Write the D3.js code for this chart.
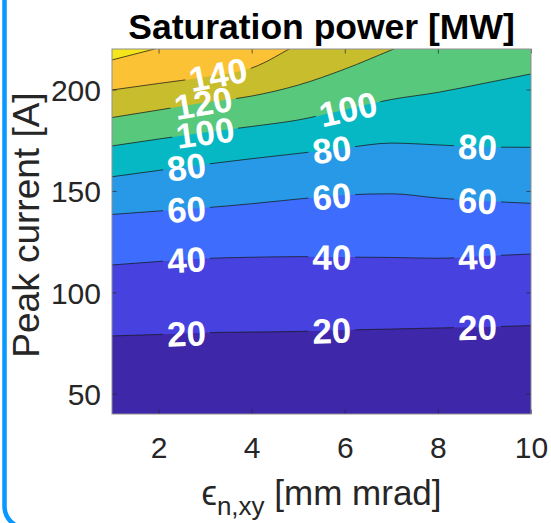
<!DOCTYPE html>
<html>
<head>
<meta charset="utf-8">
<script src="https://cdn.jsdelivr.net/npm/d3@7"></script>
<style>
  body { margin: 0; background: #fff; }
  svg { display: block; }
</style>
</head>
<body>
<div id="wrapper"></div>
<script>
// values
const emittance = [1, 2, 3, 4, 5, 6, 7, 8, 9, 10]          // mm mrad
const contourLevels = [20, 40, 60, 80, 100, 120, 140, 160]  // MW

// peak current [A] at which the saturation power crosses each level
// (levels 120-160 leave through the top of the plot, values past 220 are hidden)
const currentAt20  = [78.5, 79.2, 80.1, 80.4, 80.7, 81.4, 81.9, 82.4, 82.9, 83.6]
const currentAt40  = [113.5, 115.2, 116.7, 117.3, 117.6, 117.4, 117.2, 116.8, 117.9, 118.9]
const currentAt60  = [138.4, 140.1, 141.7, 143.7, 146.0, 148.0, 148.6, 146.5, 145.0, 143.9]
const currentAt80  = [157.0, 160.1, 163.1, 165.9, 168.5, 171.2, 173.6, 172.7, 171.7, 171.5]
const currentAt100 = [172.2, 175.6, 178.8, 181.8, 185.0, 190.1, 195.1, 198.6, 203.1, 207.7]
const currentAt120 = [186.2, 189.9, 193.6, 196.8, 202.2, 210.1, 219.5, 229, 238, 247]
const currentAt140 = [199.8, 203.0, 206.2, 210.6, 222.5, 235, 246, 257, 268, 279]
const currentAt160 = [214.6, 220.5, 226.5, 233, 240, 250, 260, 270, 280, 290]
const currentAtLevel = [currentAt20, currentAt40, currentAt60, currentAt80,
                        currentAt100, currentAt120, currentAt140, currentAt160]

const xTicks = [2, 4, 6, 8, 10]
const yTicks = [50, 100, 150, 200]

// parula-like band colours, lowest band first
const bandColors = ["#3e27a8", "#4641df", "#3e6dfd", "#2799e6", "#05b8c4",
                    "#57c87c", "#c8bd2c", "#fcc235", "#f5e61c"]

// emittance where each contour carries its inline label
const labelSpots = [
  { level: 20,  at: [2.6, 5.72, 8.85] },
  { level: 40,  at: [2.6, 5.72, 8.85] },
  { level: 60,  at: [2.6, 5.72, 8.85] },
  { level: 80,  at: [2.6, 5.72, 8.85] },
  { level: 100, at: [3.0, 6.07] },
  { level: 120, at: [2.96] },
  { level: 140, at: [3.28] },
]

function drawContourChart() {

  let dimensions = {
    width: 551,
    height: 523,
    margins: { top: 49, right: 20, bottom: 109, left: 112 }
  }
  dimensions.boundedWidth = dimensions.width
    - dimensions.margins.left
    - dimensions.margins.right
  dimensions.boundedHeight = dimensions.height
    - dimensions.margins.top
    - dimensions.margins.bottom

  const font = "'Liberation Sans', Arial, Helvetica, sans-serif"

  const wrapper = d3.select("#wrapper")
    .append("svg")
    .attr("width", dimensions.width)
    .attr("height", dimensions.height)

  // blue frame around the figure
  wrapper.append("rect")
    .attr("x", 4.5)
    .attr("y", -40)
    .attr("width", 700)
    .attr("height", 568)
    .attr("rx", 21.7)
    .attr("fill", "none")
    .attr("stroke", "#0898ff")
    .attr("stroke-width", 4.5)

  const bounds = wrapper.append("g")
    .attr("transform", `translate(${dimensions.margins.left},${dimensions.margins.top})`)

  const xScale = d3.scaleLinear()
    .domain([1, 10])
    .range([0, dimensions.boundedWidth])

  const yScale = d3.scaleLinear()
    .domain([40, 220])
    .range([dimensions.boundedHeight, 0])

  const defs = wrapper.append("defs")
  defs.append("clipPath")
    .attr("id", "plot-clip")
    .append("rect")
    .attr("width", dimensions.boundedWidth)
    .attr("height", dimensions.boundedHeight)

  const mask = defs.append("mask")
    .attr("id", "label-gaps")
    .attr("maskUnits", "userSpaceOnUse")
  mask.append("rect")
    .attr("x", -50).attr("y", -50)
    .attr("width", dimensions.boundedWidth + 100)
    .attr("height", dimensions.boundedHeight + 100)
    .attr("fill", "white")

  const plot = bounds.append("g").attr("clip-path", "url(#plot-clip)")

  const levelPoints = contourLevels.map((lvl, k) =>
    emittance.map((e, i) => ({ e: e, c: currentAtLevel[k][i] })))

  // filled bands: lowest colour everywhere, then each level filled upward
  plot.append("rect")
    .attr("width", dimensions.boundedWidth)
    .attr("height", dimensions.boundedHeight)
    .attr("fill", bandColors[0])

  const bandArea = d3.area()
    .x(d => xScale(d.e))
    .y0(d => yScale(d.c))
    .y1(-20)
    .curve(d3.curveMonotoneX)

  plot.selectAll(".band")
    .data(levelPoints)
    .join("path")
    .attr("class", "band")
    .attr("d", bandArea)
    .attr("fill", (d, k) => bandColors[k + 1])

  const contourLine = d3.line()
    .x(d => xScale(d.e))
    .y(d => yScale(d.c))
    .curve(d3.curveMonotoneX)

  plot.append("g")
    .attr("mask", "url(#label-gaps)")
    .selectAll("path")
    .data(levelPoints)
    .join("path")
    .attr("d", contourLine)
    .attr("fill", "none")
    .attr("stroke", "#1a1a1a")
    .attr("stroke-width", 0.75)

  // inline labels, rotated along the contour
  const spotAt = (k, e) => {
    let i = d3.bisectRight(emittance, e) - 1
    i = Math.max(0, Math.min(emittance.length - 2, i))
    const c0 = currentAtLevel[k][i], c1 = currentAtLevel[k][i + 1]
    const t = (e - emittance[i]) / (emittance[i + 1] - emittance[i])
    const px0 = xScale(emittance[i]), px1 = xScale(emittance[i + 1])
    const py0 = yScale(c0), py1 = yScale(c1)
    return {
      x: xScale(e),
      y: yScale(c0 + t * (c1 - c0)),
      angle: Math.atan2(py1 - py0, px1 - px0) * 180 / Math.PI
    }
  }

  const labels = []
  labelSpots.forEach(s => {
    const k = contourLevels.indexOf(s.level)
    s.at.forEach(e => labels.push(Object.assign({ text: s.level }, spotAt(k, e))))
  })

  const labelGroup = plot.append("g")
  labelGroup.selectAll("text")
    .data(labels)
    .join("text")
    .attr("transform", d => `translate(${d.x},${d.y}) rotate(${d.angle})`)
    .attr("text-anchor", "middle")
    .attr("dy", "0.36em")
    .attr("font-family", font)
    .attr("font-weight", "bold")
    .attr("font-size", 35)
    .attr("fill", "white")
    .text(d => d.text)
    .each(function(d) {
      const b = this.getBBox()
      mask.append("rect")
        .attr("x", b.x - 4)
        .attr("y", b.y)
        .attr("width", b.width + 8)
        .attr("height", b.height)
        .attr("transform", `translate(${d.x},${d.y}) rotate(${d.angle})`)
        .attr("fill", "black")
    })

  // axes: ticks pointing inward on all four sides
  const tickLen = -4.5
  const styleAxis = g => {
    g.select(".domain").remove()
    g.selectAll(".tick line").attr("stroke", "#262626").attr("stroke-width", 0.7)
    g.selectAll("text")
      .attr("fill", "#262626")
      .attr("font-size", 30)
      .attr("font-family", font)
  }

  bounds.append("g")
    .attr("transform", `translate(0,${dimensions.boundedHeight})`)
    .call(d3.axisBottom(xScale).tickValues(xTicks).tickSizeInner(tickLen).tickSizeOuter(0).tickPadding(23))
    .call(styleAxis)

  bounds.append("g")
    .call(d3.axisTop(xScale).tickValues(xTicks).tickSizeInner(tickLen).tickSizeOuter(0).tickFormat(""))
    .call(styleAxis)

  bounds.append("g")
    .call(d3.axisLeft(yScale).tickValues(yTicks).tickSizeInner(tickLen).tickSizeOuter(0).tickPadding(11))
    .call(styleAxis)
    .selectAll("text").attr("dy", "0.36em")

  bounds.append("g")
    .attr("transform", `translate(${dimensions.boundedWidth},0)`)
    .call(d3.axisRight(yScale).tickValues(yTicks).tickSizeInner(tickLen).tickSizeOuter(0).tickFormat(""))
    .call(styleAxis)

  bounds.append("rect")
    .attr("width", dimensions.boundedWidth)
    .attr("height", dimensions.boundedHeight)
    .attr("fill", "none")
    .attr("stroke", "#8f8f8f")
    .attr("stroke-width", 1)

  // title and axis labels
  wrapper.append("text")
    .attr("x", dimensions.margins.left + dimensions.boundedWidth / 2)
    .attr("y", 39)
    .attr("text-anchor", "middle")
    .attr("font-family", font)
    .attr("font-weight", "bold")
    .attr("font-size", 35.5)
    .attr("fill", "#000")
    .text("Saturation power [MW]")

  const xLabel = wrapper.append("text")
    .attr("x", dimensions.margins.left + dimensions.boundedWidth / 2)
    .attr("y", 505)
    .attr("text-anchor", "middle")
    .attr("font-family", font)
    .attr("font-size", 35)
    .attr("fill", "#262626")
  xLabel.append("tspan").text("\u03f5")
  xLabel.append("tspan").attr("dy", 10).attr("font-size", 26).text("n,xy")
  xLabel.append("tspan").attr("dy", -10).text(" [mm mrad]")

  wrapper.append("text")
    .attr("transform", `translate(39,225) rotate(-90)`)
    .attr("text-anchor", "middle")
    .attr("font-family", font)
    .attr("font-size", 37)
    .attr("fill", "#262626")
    .text("Peak current [A]")
}

drawContourChart()
</script>
</body>
</html>
